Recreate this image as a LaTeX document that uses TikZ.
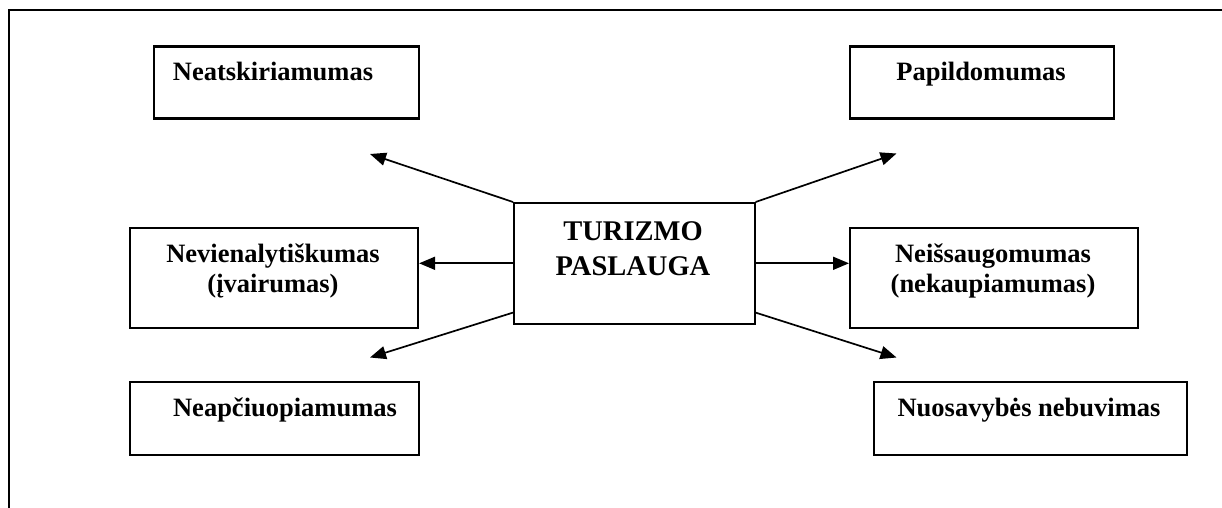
\documentclass[tikz,border=0pt]{standalone}
\usepackage{fontspec}
\setmainfont{Liberation Serif}
\usetikzlibrary{arrows.meta}
\begin{document}
\begin{tikzpicture}[x=1pt,y=-1pt,
  box/.style={draw,line width=2.1pt,inner sep=0pt,anchor=north west},
  lbl/.style={anchor=base,inner sep=0pt,font=\bfseries\fontsize{26.5}{30}\selectfont},
  clbl/.style={anchor=base,inner sep=0pt,font=\bfseries\fontsize{28.5}{34}\selectfont},
  arr/.style={line width=1.7pt,-{Triangle[length=16pt,width=13pt]}}]
\useasboundingbox (0,0) rectangle (1222,508);
% open frame
\draw[line width=2.6pt] (1222,10) -- (9,10) -- (9,508);
% boxes
\node[box,minimum width=265pt,minimum height=72pt] (b1) at (153,45.5) {};
\node[box,minimum width=264pt,minimum height=72pt] (b2) at (849,45.5) {};
\node[box,minimum width=288pt,minimum height=100pt] (b3) at (129,227) {};
\node[box,minimum width=288pt,minimum height=100pt] (b4) at (849,227) {};
\node[box,minimum width=289pt,minimum height=73pt] (b5) at (129,381) {};
\node[box,minimum width=313pt,minimum height=73pt] (b6) at (873,381) {};
\node[box,minimum width=240.5pt,minimum height=120.5pt] (c) at (513,202) {};
% texts
\node[lbl] (t1) at (273,81) {Neatskiriamumas};
\node[lbl] (t2) at (981,81) {Papildomumas};
\node[lbl] (t3a) at (273,262) {Nevienalytiškumas};
\node[lbl] (t3b) at (273,292) {(įvairumas)};
\node[lbl] (t4a) at (993,262.5) {Neišsaugomumas};
\node[lbl] (t4b) at (993,292) {(nekaupiamumas)};
\node[lbl] (t5) at (285,416.7) {Neapčiuopiamumas};
\node[lbl] (t6) at (1029,416.7) {Nuosavybės nebuvimas};
\node[clbl] (t7a) at (633,240) {TURIZMO};
\node[clbl] (t7b) at (633,275) {PASLAUGA};
% arrows
\coordinate (e1) at (370,154);
\coordinate (e2) at (896.5,153.5);
\coordinate (e3) at (370,357.5);
\coordinate (e4) at (896.5,357.5);
\draw[arr] (c.north west) -- (e1);
\draw[arr] (c.north east) -- (e2);
\draw[arr] (c.west) -- (c.west -| b3.east);
\draw[arr] (c.east) -- (c.east -| b4.west);
\draw[arr] ([yshift=12pt]c.south west) -- (e3);
\draw[arr] ([yshift=12pt]c.south east) -- (e4);
\end{tikzpicture}
\end{document}
